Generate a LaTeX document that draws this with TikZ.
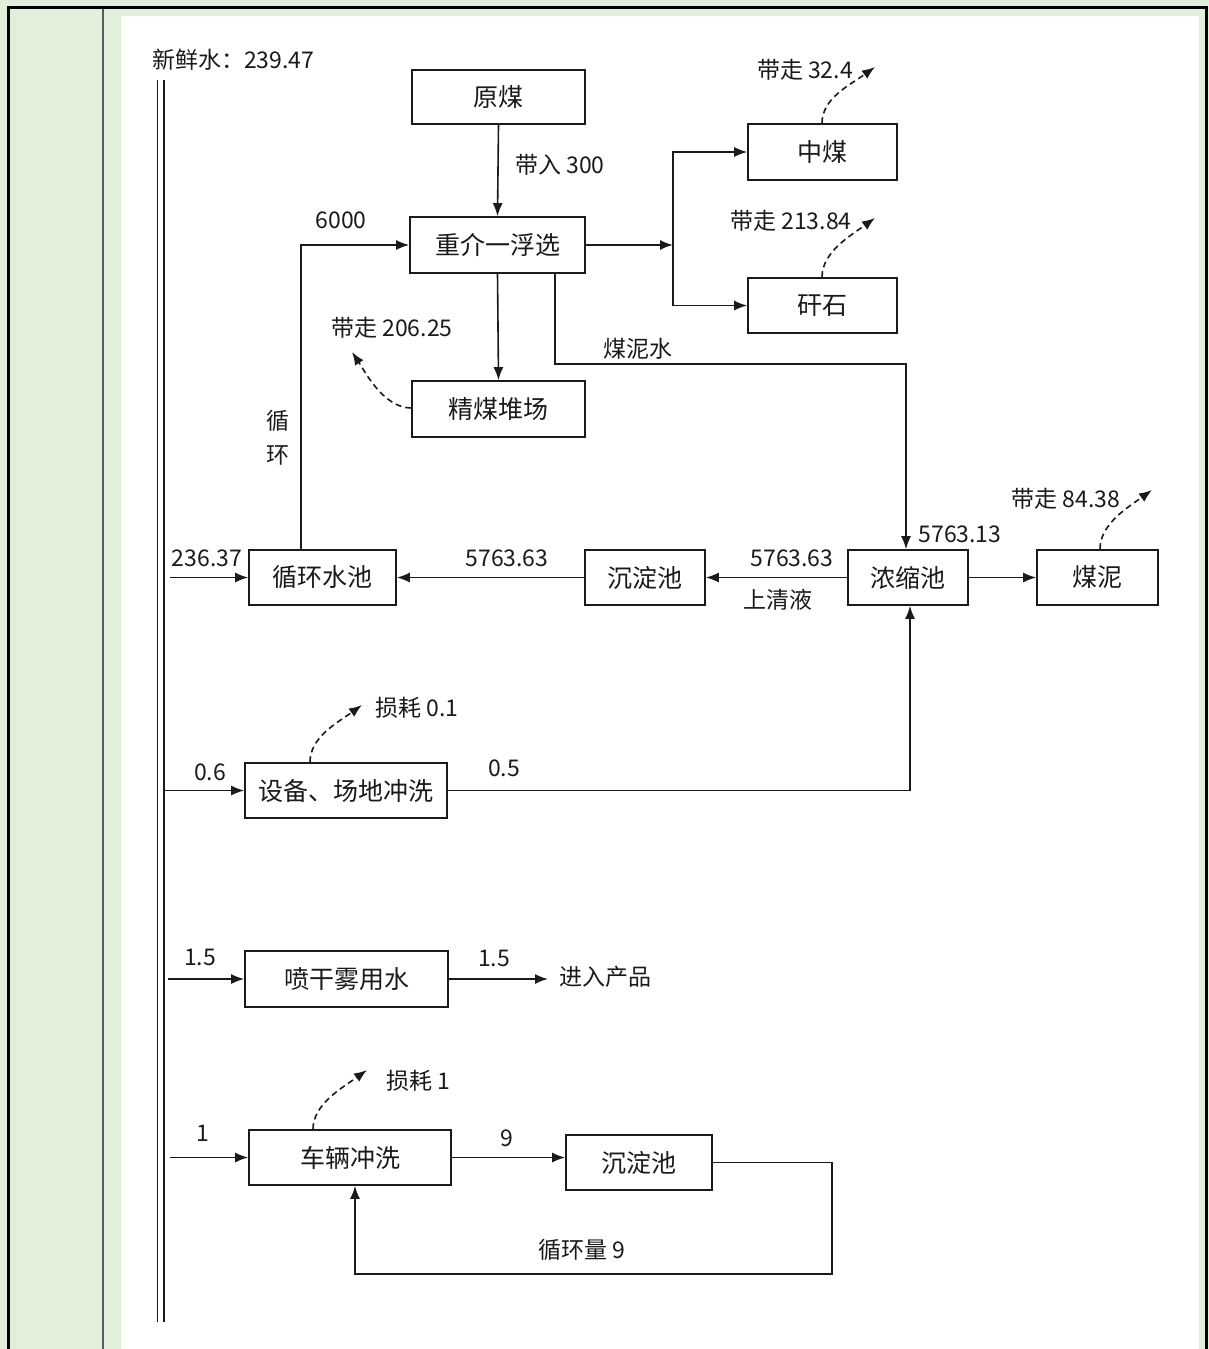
\documentclass[tikz,border=0pt]{standalone}
\usepackage{fontspec}
\setmainfont{Noto Sans CJK SC}
\usetikzlibrary{arrows.meta,calc}
\definecolor{framegreen}{HTML}{E2EFDA}
\definecolor{divline}{HTML}{5A5A5A}
\definecolor{ink}{HTML}{1A1A1A}
\begin{document}
\begin{tikzpicture}[x=1pt,y=-1pt,
  box/.style={draw=ink,text=ink,line width=1.6pt,inner sep=0pt,font=\fontsize{25}{27}\selectfont},
  lbl/.style={inner sep=0pt,text=ink,font=\fontsize{23}{25}\selectfont},
  conn/.style={draw=ink,line width=1.6pt},
  arr/.style={draw=ink,line width=1.6pt,-{Latex[length=13pt,width=10pt]}},
  dasharr/.style={draw=ink,line width=1.6pt,dash pattern=on 6pt off 4pt,-{Latex[length=13pt,width=10pt]}}]
\useasboundingbox (0,0) rectangle (1209,1349);
% frame
\fill[framegreen] (0,0) rectangle (1209,1349);
\fill[white] (121,16) rectangle (1199,1349);
\draw[line width=3pt] (8.5,1349) -- (8.5,7.5) -- (1206.5,7.5) -- (1206.5,1349);
\draw[divline,line width=1.5pt] (103,9) -- (103,1349);
% fresh water pipe
\node[lbl,anchor=west] (fresh) at (152,60) {新鲜水：239.47};
\coordinate (p1t) at (157.5,80); \coordinate (p1b) at (157.5,1322);
\coordinate (p2t) at (164,80); \coordinate (p2b) at (164,1322);
\draw[conn] (p1t) -- (p1b);
\draw[conn] (p2t) -- (p2b);
% boxes
\node[box,minimum width=173pt,minimum height=54pt] (yuanmei) at (498.5,97) {原煤};
\node[box,minimum width=175pt,minimum height=56pt] (zhongjie) at (497.5,245) {重介一浮选};
\node[box,minimum width=149pt,minimum height=56pt] (zhongmei) at (822.5,152) {中煤};
\node[box,minimum width=149pt,minimum height=55pt] (ganshi) at (822.5,305.5) {矸石};
\node[box,minimum width=173pt,minimum height=56pt] (jingmei) at (498.5,409) {精煤堆场};
\node[box,minimum width=147pt,minimum height=55pt] (xhsc) at (322.5,577.5) {循环水池};
\node[box,minimum width=120pt,minimum height=55pt] (cdc) at (645,577.5) {沉淀池};
\node[box,minimum width=120pt,minimum height=55pt] (nsc) at (908,577.5) {浓缩池};
\node[box,minimum width=121pt,minimum height=55pt] (meini) at (1097.5,577.5) {煤泥};
\node[box,minimum width=202pt,minimum height=55pt] (sb) at (346,790.5) {设备、场地冲洗};
\node[box,minimum width=203pt,minimum height=56pt] (pgw) at (346.5,979) {喷干雾用水};
\node[box,minimum width=202pt,minimum height=55pt] (chel) at (350,1157.5) {车辆冲洗};
\node[box,minimum width=146pt,minimum height=55pt] (cdc2) at (639,1162.5) {沉淀池};
% labels
\node[lbl] (l1) at (560,165) {带入 300};
\node[lbl] (l2) at (805,70) {带走 32.4};
\node[lbl] (l3) at (791,221) {带走 213.84};
\node[lbl] (l4) at (392,328) {带走 206.25};
\node[lbl] (l5) at (1066,499) {带走 84.38};
\node[lbl] (l6) at (341,220) {6000};
\node[lbl] (l7) at (638,349) {煤泥水};
\node[lbl] (l8a) at (278,421) {循};
\node[lbl] (l8b) at (278,455) {环};
\node[lbl] (l9) at (207,558) {236.37};
\node[lbl] (l10) at (507,558) {5763.63};
\node[lbl] (l11) at (792,558) {5763.63};
\node[lbl] (l12) at (778,600) {上清液};
\node[lbl] (l13) at (960,534) {5763.13};
\node[lbl] (l14) at (417,708) {损耗 0.1};
\node[lbl] (l15) at (210,772) {0.6};
\node[lbl] (l16) at (504,768) {0.5};
\node[lbl] (l17) at (200,957) {1.5};
\node[lbl] (l18) at (494,958) {1.5};
\node[lbl] (jrcp) at (605,977) {进入产品};
\node[lbl] (l19) at (418,1081) {损耗 1};
\node[lbl] (l20) at (203,1133) {1};
\node[lbl] (l21) at (507,1138) {9};
\node[lbl] (l22) at (582,1250) {循环量 9};
% coordinates
\coordinate (split) at (673,245);
\coordinate (in1) at (170,577.5);
\coordinate (in2) at (164,790.5);
\coordinate (in3) at (168,979);
\coordinate (out3) at (548,979);
\coordinate (in4) at (170,1157.5);
\coordinate (t1) at (875,67);
\coordinate (t2) at (875,218);
\coordinate (t3) at (352,352);
\coordinate (t4) at (1152,490);
\coordinate (t5) at (362,705);
\coordinate (t6) at (367,1070);
% connectors
\draw[arr] (yuanmei.south) -- (zhongjie.north);
\draw[arr] (zhongjie.east) -- (split);
\draw[arr] (split) |- (zhongmei.west);
\draw[arr] (split) |- (ganshi.west);
\draw[arr] (zhongjie.south) -- (jingmei.north);
\draw[arr] ([xshift=57.5pt]zhongjie.south) -- ++(0,90) -| ([xshift=-2pt]nsc.north);
\draw[arr] ([xshift=-21.5pt]xhsc.north) |- (zhongjie.west);
\draw[arr] (in1) -- (xhsc.west);
\draw[arr] (cdc.west) -- (xhsc.east);
\draw[arr] (nsc.west) -- (cdc.east);
\draw[arr] (nsc.east) -- (meini.west);
\draw[arr] (in2) -- (sb.west);
\draw[arr] (sb.east) -| ([xshift=2pt]nsc.south);
\draw[arr] (in3) -- (pgw.west);
\draw[arr] (pgw.east) -- (out3);
\draw[arr] (in4) -- (chel.west);
\draw[arr] (chel.east) -- (chel.east -| cdc2.west);
\draw[arr] (cdc2.east) -- ++(119,0) -- ++(0,111.5) -| ([xshift=5pt]chel.south);
% dashed losses
\draw[dasharr] ([xshift=-0.5pt]zhongmei.north) .. controls +(0,-25) and +(-25,18) .. (t1);
\draw[dasharr] ([xshift=-0.5pt]ganshi.north) .. controls +(0,-25) and +(-25,18) .. (t2);
\draw[dasharr] ([yshift=1pt]jingmei.west) .. controls +(-28,0) and +(12,18) .. (t3);
\draw[dasharr] ([xshift=2.5pt]meini.north) .. controls +(0,-25) and +(-25,18) .. (t4);
\draw[dasharr] ([xshift=-36pt]sb.north) .. controls +(0,-25) and +(-25,18) .. (t5);
\draw[dasharr] ([xshift=-37pt]chel.north) .. controls +(0,-25) and +(-25,18) .. (t6);
\end{tikzpicture}
\end{document}
